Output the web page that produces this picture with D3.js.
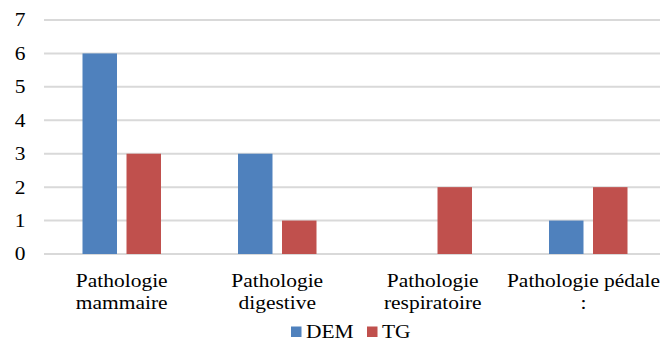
<!DOCTYPE html>
<html><head><meta charset="utf-8">
<script src="https://cdn.jsdelivr.net/npm/d3@7"></script>
<style>
html,body{margin:0;padding:0;background:#fff;}
svg{display:block;}
</style></head>
<body>
<script>
const categories = [["Pathologie","mammaire"],["Pathologie","digestive"],["Pathologie","respiratoire"],["Pathologie pédale",":"]];
const seriesNames = ["DEM","TG"];
const demValues = [6,3,0,1];
const tgValues = [3,1,2,2];
const yTicks = [0,1,2,3,4,5,6,7];
const colors = ["#4f81bd","#c0504d"];

const W = 660, H = 342;
const sx = 1.13, fs = 19;
const FONT = "'Liberation Serif', 'Times New Roman', Times, 'DejaVu Serif', serif";
const svg = d3.select("body").append("svg").attr("width",W).attr("height",H)
  .attr("font-family",FONT).style("font-family",FONT);

const catKeys = categories.map((c,i)=>i);
const x = d3.scaleBand().domain(catKeys).range([44,666]).padding(0);
const xs = d3.scaleBand().domain(seriesNames).range([0,x.bandwidth()]).paddingInner(0.216).paddingOuter(0.875);
const y = d3.scaleLinear().domain([0,7]).range([254,20]);

// grid
svg.append("g").selectAll("line").data(yTicks).join("line")
  .attr("x1",44).attr("x2",W).attr("y1",d=>y(d)).attr("y2",d=>y(d))
  .attr("stroke","#d9d9d9").attr("stroke-width",2);

// y labels
svg.append("g").selectAll("text").data(yTicks).join("text")
  .attr("transform",d=>`translate(25.5,${y(d)}) scale(${sx},1)`)
  .attr("text-anchor","end").attr("dy","0.34em").attr("font-size",fs)
  .style("font-family",FONT).attr("fill","#000")
  .text(d=>d);

// bars
const data = [demValues,tgValues];
seriesNames.forEach((s,si)=>{
  svg.append("g").selectAll("rect").data(data[si]).join("rect")
    .attr("x",(d,i)=>x(i)+xs(s)).attr("width",xs.bandwidth())
    .attr("y",d=>y(d)).attr("height",d=>y(0)-y(d))
    .attr("fill",colors[si]);
});

// category labels
const cl = svg.append("g").selectAll("g").data(categories).join("g")
  .attr("transform",(d,i)=>`translate(${Math.min(x(i)+x.bandwidth()/2, 583.5)},0) scale(${sx},1)`);
cl.each(function(lines){
  d3.select(this).selectAll("text").data(lines).join("text")
    .attr("x",0).attr("y",(d,j)=>287+j*22.5)
    .attr("text-anchor","middle").attr("font-size",fs)
    .style("font-family",FONT).attr("fill","#000").text(d=>d);
});

// legend
const legX = [291,367];
seriesNames.forEach((s,si)=>{
  svg.append("rect").attr("x",legX[si]).attr("y",326.5).attr("width",10.5).attr("height",10.5).attr("fill",colors[si]);
  svg.append("text").attr("transform",`translate(${legX[si]+15},337.5) scale(${sx},1)`)
    .attr("font-size",fs).style("font-family",FONT).attr("fill","#000").text(s);
});
</script>
</body></html>
